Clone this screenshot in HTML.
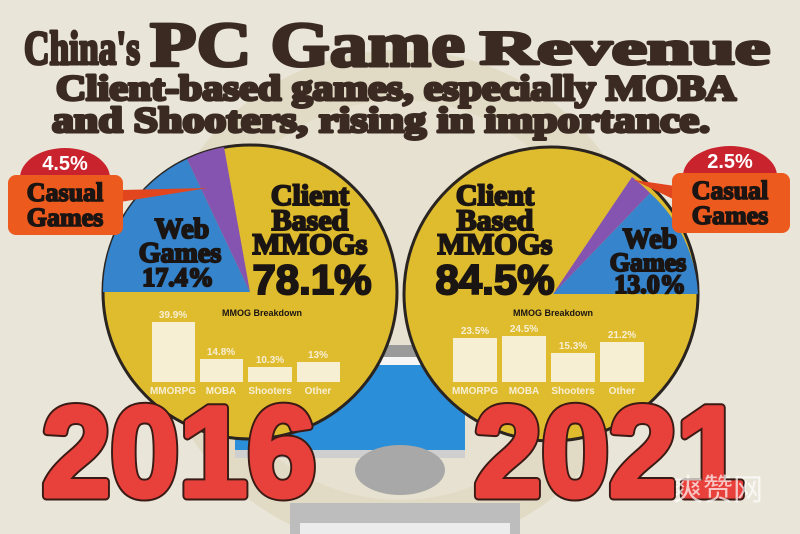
<!DOCTYPE html>
<html><head><meta charset="utf-8"><style>html,body{margin:0;padding:0;background:#e9e5d8}svg{display:block}</style></head>
<body>
<svg width="800" height="534" viewBox="0 0 800 534" xmlns="http://www.w3.org/2000/svg">
<rect width="800" height="534" fill="#e9e5d8"/>
<circle cx="400" cy="300" r="250" fill="#ddd6bd" opacity="0.7"/>
<circle cx="400" cy="300" r="200" fill="#e6e1d0"/>
<!-- monitor -->
<rect x="225" y="345" width="250" height="12" fill="#9a9a9a"/>
<rect x="235" y="357" width="230" height="8" fill="#f5f5f5"/>
<rect x="235" y="365" width="230" height="85" fill="#2a8ed8"/>
<rect x="235" y="450" width="230" height="8" fill="#cfcfcf"/>
<ellipse cx="400" cy="470" rx="45" ry="25" fill="#a8a8a8"/>
<rect x="290" y="503" width="230" height="31" fill="#bdbdbd"/>
<rect x="300" y="523" width="210" height="11" fill="#ececec"/>
<!-- left pie -->
<circle cx="250" cy="292" r="147" fill="#dfbb2e" stroke="#2a2420" stroke-width="3"/>
<path d="M250,292 L103,292 A147,147 0 0 1 187,159 Z" fill="#3584cc"/>
<path d="M250,292 L187,159 A147,147 0 0 1 224,147 Z" fill="#8554b0"/>
<!-- right pie -->
<circle cx="551" cy="294" r="147" fill="#dfbb2e" stroke="#2a2420" stroke-width="3"/>
<path d="M553,294 L650,193 A147,147 0 0 1 698,294 Z" fill="#3584cc"/>
<path d="M553,294 L632,177 A147,147 0 0 1 650,193 Z" fill="#8554b0"/>
<g font-family="Liberation Serif, serif" font-weight="bold" fill="#1a1512" stroke="#1a1512" stroke-width="2" text-anchor="middle">
<text x="310" y="205" font-size="30">Client</text>
<text x="310" y="230" font-size="30">Based</text>
<text x="310" y="254" font-size="30">MMOGs</text>
<text x="182" y="238" font-size="28">Web</text>
<text x="180" y="262" font-size="28">Games</text>
<text x="178" y="286" font-size="26">17.4%</text>
<text x="495" y="205" font-size="30">Client</text>
<text x="495" y="230" font-size="30">Based</text>
<text x="495" y="254" font-size="30">MMOGs</text>
<text x="650" y="248" font-size="28">Web</text>
<text x="648" y="271" font-size="26">Games</text>
<text x="650" y="293" font-size="26">13.0%</text>
</g>
<g font-family="Liberation Sans, sans-serif" font-weight="bold" fill="#1a1512" stroke="#1a1512" stroke-width="2" text-anchor="middle" font-size="42">
<text x="312" y="294">78.1%</text>
<text x="495" y="294">84.5%</text>
</g>
<!-- bars -->
<g fill="#f7efd4">
<rect x="152" y="322" width="43" height="60"/><rect x="200" y="359" width="43" height="23"/><rect x="248" y="367" width="44" height="15"/><rect x="297" y="362" width="43" height="20"/>
<rect x="453" y="338" width="44" height="44"/><rect x="502" y="336" width="44" height="46"/><rect x="551" y="353" width="44" height="29"/><rect x="600" y="342" width="44" height="40"/>
</g>
<g font-family="Liberation Sans Narrow, Liberation Sans, sans-serif" font-weight="bold" font-size="10" fill="#f7efd4" text-anchor="middle">
<text x="173" y="318">39.9%</text><text x="221" y="355">14.8%</text><text x="270" y="363">10.3%</text><text x="318" y="358">13%</text>
<text x="173" y="394">MMORPG</text><text x="221" y="394">MOBA</text><text x="270" y="394">Shooters</text><text x="318" y="394">Other</text>
<text x="475" y="334">23.5%</text><text x="524" y="332">24.5%</text><text x="573" y="349">15.3%</text><text x="622" y="338">21.2%</text>
<text x="475" y="394">MMORPG</text><text x="524" y="394">MOBA</text><text x="573" y="394">Shooters</text><text x="622" y="394">Other</text>
</g>
<g font-family="Liberation Sans Narrow, Liberation Sans, sans-serif" font-weight="bold" font-size="9" fill="#1a1512" text-anchor="middle">
<text x="262" y="316">MMOG Breakdown</text><text x="553" y="316">MMOG Breakdown</text>
</g>
<!-- callouts -->
<path d="M20,178 A45,30 0 0 1 110,178 Z" fill="#c9242e"/>
<path d="M120,190 L208,188 L120,202 Z" fill="#e2461e"/>
<rect x="8" y="175" width="115" height="60" rx="8" fill="#ec5a1e"/>
<path d="M683,176 A47,30 0 0 1 777,176 Z" fill="#c9242e"/>
<path d="M675,186 L634,180 L675,200 Z" fill="#e2461e"/>
<rect x="672" y="173" width="118" height="60" rx="8" fill="#ec5a1e"/>
<g font-family="Liberation Sans, sans-serif" font-weight="bold" fill="#fff" font-size="20" text-anchor="middle">
<text x="65" y="170">4.5%</text><text x="730" y="168">2.5%</text>
</g>
<g font-family="Liberation Serif, serif" font-weight="bold" fill="#1a1512" stroke="#1a1512" stroke-width="1.6" font-size="26" text-anchor="middle">
<text x="65" y="201">Casual</text><text x="65" y="226">Games</text>
<text x="730" y="199">Casual</text><text x="730" y="224">Games</text>
</g>
<!-- title -->
<g font-family="Liberation Serif, serif" font-weight="bold" fill="#3a2a22" stroke="#3a2a22" stroke-width="3" stroke-linejoin="round">
<text x="24" y="64" font-size="48" textLength="116" lengthAdjust="spacingAndGlyphs">China's</text>
<text x="150" y="66" font-size="64" textLength="315" lengthAdjust="spacingAndGlyphs">PC Game</text>
<text x="480" y="64" font-size="48" textLength="290" lengthAdjust="spacingAndGlyphs">Revenue</text>
<text x="56" y="100" font-size="36" textLength="680" lengthAdjust="spacingAndGlyphs">Client-based games, especially MOBA</text>
<text x="52" y="132" font-size="36" textLength="658" lengthAdjust="spacingAndGlyphs">and Shooters, rising in importance.</text>
</g>
<!-- years -->
<g font-family="Liberation Sans, sans-serif" font-weight="bold" font-size="128" stroke-linejoin="round">
<g fill="#3a1a14" stroke="#3a1a14" stroke-width="9">
<text x="42" y="496" textLength="274" lengthAdjust="spacingAndGlyphs">2016</text>
<text x="474" y="496" textLength="270" lengthAdjust="spacingAndGlyphs">2021</text>
</g>
<g fill="#e8403a" stroke="#e8403a" stroke-width="5">
<text x="42" y="496" textLength="274" lengthAdjust="spacingAndGlyphs">2016</text>
<text x="474" y="496" textLength="270" lengthAdjust="spacingAndGlyphs">2021</text>
</g>
</g>
<text x="718" y="500" font-family="Noto Sans CJK SC, sans-serif" font-size="30" fill="#fff" opacity="0.7" text-anchor="middle">爽赞网</text>
</svg>
</body></html>
